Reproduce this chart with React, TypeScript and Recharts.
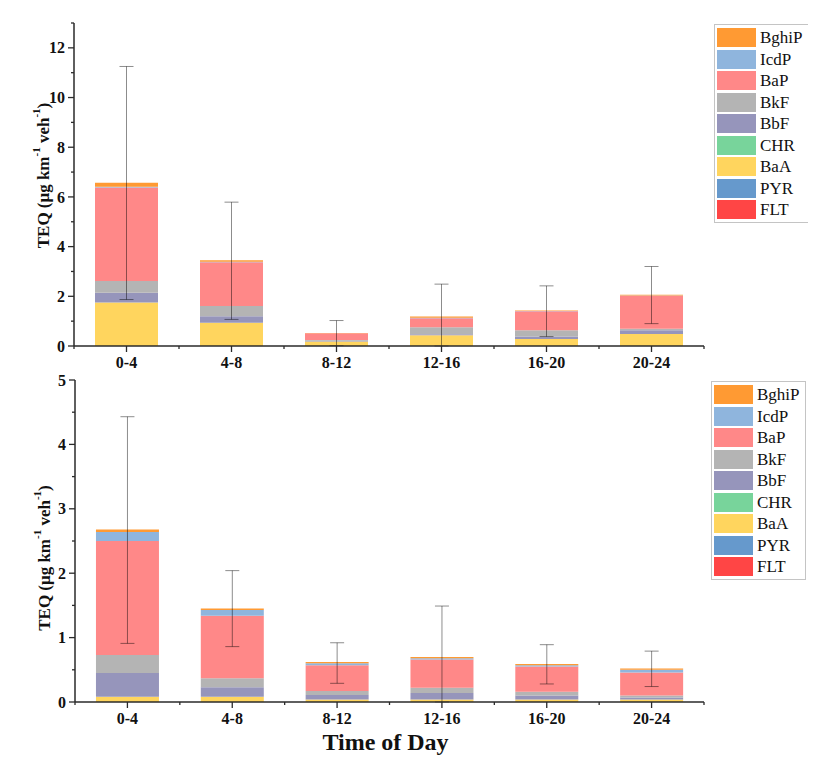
import React from 'react'
import { BarChart, Bar, XAxis, YAxis, ErrorBar, Label } from 'recharts'

const TIMES = ['0-4', '4-8', '8-12', '12-16', '16-20', '20-24']

// stack order, bottom -> top
const SPECIES = ['FLT', 'PYR', 'BaA', 'CHR', 'BbF', 'BkF', 'BaP', 'IcdP', 'BghiP']
const COLORS: Record<string, string> = {
  FLT: '#FF4545',
  PYR: '#6699CC',
  BaA: '#FFD55E',
  CHR: '#78D49B',
  BbF: '#9695BB',
  BkF: '#B4B4B4',
  BaP: '#FF8888',
  IcdP: '#8FB5DD',
  BghiP: '#FF9A33',
}

// panel (a)
const A_FLT = [0, 0, 0, 0, 0, 0]
const A_PYR = [0, 0, 0, 0, 0, 0]
const A_BaA = [1.75, 0.94, 0.18, 0.43, 0.28, 0.48]
const A_CHR = [0, 0, 0, 0, 0, 0]
const A_BbF = [0.39, 0.26, 0.03, 0.04, 0.1, 0.15]
const A_BkF = [0.48, 0.41, 0.03, 0.28, 0.25, 0.06]
const A_BaP = [3.76, 1.76, 0.27, 0.37, 0.77, 1.33]
const A_IcdP = [0.03, 0.02, 0.005, 0.02, 0.01, 0.01]
const A_BghiP = [0.16, 0.06, 0.01, 0.05, 0.02, 0.03]
const A_ERR_LO = [4.7, 2.38, 0.51, 1.19, 1.05, 1.16]
const A_ERR_HI = [4.68, 2.34, 0.5, 1.3, 0.99, 1.14]
const A_TICKS = [0, 1, 2, 3, 4, 5, 6, 7, 8, 9, 10, 11, 12, 13]

// panel (b)
const B_FLT = [0, 0, 0, 0, 0, 0]
const B_PYR = [0, 0, 0, 0, 0, 0]
const B_BaA = [0.08, 0.08, 0.04, 0.04, 0.04, 0.04]
const B_CHR = [0, 0, 0, 0, 0, 0]
const B_BbF = [0.37, 0.15, 0.07, 0.1, 0.06, 0.03]
const B_BkF = [0.28, 0.14, 0.06, 0.08, 0.06, 0.03]
const B_BaP = [1.77, 0.97, 0.4, 0.44, 0.39, 0.36]
const B_IcdP = [0.14, 0.09, 0.03, 0.02, 0.02, 0.04]
const B_BghiP = [0.04, 0.02, 0.02, 0.02, 0.02, 0.02]
const B_ERR_LO = [1.77, 0.59, 0.33, 0.7, 0.31, 0.28]
const B_ERR_HI = [1.75, 0.59, 0.3, 0.79, 0.3, 0.27]
const B_TICKS = [0, 0.5, 1, 1.5, 2, 2.5, 3, 3.5, 4, 4.5, 5]

const FONT = "'Liberation Serif', 'Times New Roman', serif"
const AXIS = '#2a2a2a'

const buildRows = (sets: Record<string, number[]>, lo: number[], hi: number[]) =>
  TIMES.map((time, i) => {
    const row: any = { time, err: [lo[i], hi[i]] }
    SPECIES.forEach(s => { row[s] = sets[s][i] })
    return row
  })

const dataA = buildRows(
  { FLT: A_FLT, PYR: A_PYR, BaA: A_BaA, CHR: A_CHR, BbF: A_BbF, BkF: A_BkF, BaP: A_BaP, IcdP: A_IcdP, BghiP: A_BghiP },
  A_ERR_LO, A_ERR_HI
)
const dataB = buildRows(
  { FLT: B_FLT, PYR: B_PYR, BaA: B_BaA, CHR: B_CHR, BbF: B_BbF, BkF: B_BkF, BaP: B_BaP, IcdP: B_IcdP, BghiP: B_BghiP },
  B_ERR_LO, B_ERR_HI
)

const YTick = ({ x, y, payload, isMajor }: any) => {
  const major = isMajor(payload.value)
  const len = major ? 6 : 3
  return (
    <g>
      <line x1={x - len} x2={x} y1={y} y2={y} stroke={AXIS} strokeWidth={1.3} />
      {major && (
        <text x={x - 9} y={y} dy="0.35em" textAnchor="end" fontSize={16} fontWeight="bold" fontFamily={FONT} fill="#111">
          {payload.value}
        </text>
      )}
    </g>
  )
}

const XTick = ({ x, y, payload, index }: any) => {
  const half = typeof payload.offset === 'number' && payload.offset > 0 ? payload.offset : 52.5
  return (
    <g>
      <line x1={x} x2={x} y1={y} y2={y + 6} stroke={AXIS} strokeWidth={1.3} />
      <line x1={x + half} x2={x + half} y1={y} y2={y + 3} stroke={AXIS} strokeWidth={1.3} />
      {index === 0 && <line x1={x - half} x2={x - half} y1={y} y2={y + 3} stroke={AXIS} strokeWidth={1.3} />}
      <text x={x} y={y + 22} textAnchor="middle" fontSize={16} fontWeight="bold" fontFamily={FONT} fill="#111">
        {payload.value}
      </text>
    </g>
  )
}

const YTitle = ({ viewBox, shift }: any) => {
  const cx = viewBox.x + viewBox.width - 31
  const cy = viewBox.y + viewBox.height / 2 + shift
  return (
    <text x={cx} y={cy} transform={`rotate(-90 ${cx} ${cy})`} textAnchor="middle" dominantBaseline="central"
      fontSize={17} fontWeight="bold" fontFamily={FONT} fill="#111">
      TEQ (μg km<tspan dy={-7} fontSize={11}>-1</tspan><tspan dy={7}> veh</tspan>
      <tspan dy={-7} fontSize={11}>-1</tspan><tspan dy={7}>)</tspan>
    </text>
  )
}

const PanelTag = ({ viewBox, text, down }: any) => (
  <text x={viewBox.x + viewBox.width - 10} y={viewBox.y + down} textAnchor="end"
    fontSize={28} fontWeight="bold" fontFamily={FONT} fill="#111">
    {text}
  </text>
)

const LegendBox = ({ left, top }: { left: number; top: number }) => (
  <div style={{ position: 'absolute', left, top, width: 91, border: '1px solid #c4c4c4', padding: '2px 0 1px 2px', background: '#fff' }}>
    {[...SPECIES].reverse().map(s => (
      <div key={s} style={{ display: 'flex', alignItems: 'center', height: 21.5 }}>
        <span style={{ width: 39, height: 19, background: COLORS[s], display: 'inline-block' }} />
        <span style={{ marginLeft: 4, fontSize: 17, fontFamily: FONT, color: '#111', lineHeight: '19px' }}>{s}</span>
      </div>
    ))}
  </div>
)

interface PanelProps {
  data: any[]
  max: number
  ticks: number[]
  isMajor: (v: number) => boolean
  tag: string
  tagDown: number
  titleShift: number
  yWidth: number
  height: number
  xHeight: number
  showXTitle?: boolean
}

const Panel = ({ data, max, ticks, isMajor, tag, tagDown, titleShift, yWidth, height, xHeight, showXTitle }: PanelProps) => (
  <BarChart width={710} height={height} data={data} barCategoryGap="20%"
    margin={{ top: 15, right: 14, left: 0, bottom: 0 }}>
    <XAxis dataKey="time" interval={0} tickSize={0} tickMargin={0} tickLine={false} height={xHeight}
      axisLine={{ stroke: AXIS, strokeWidth: 1.5 }} tick={(p: any) => <XTick {...p} />}>
      {showXTitle && (
        <Label content={(p: any) => (
          <text x={p.viewBox.x + p.viewBox.width / 2 - 4} y={p.viewBox.y + 48} textAnchor="middle"
            fontSize={24} fontWeight="bold" fontFamily={FONT} fill="#111">Time of Day</text>
        )} />
      )}
    </XAxis>
    <XAxis xAxisId="top" dataKey="time" orientation="top" height={0} tick={false} tickLine={false}
      axisLine={{ stroke: AXIS, strokeWidth: 1.3 }}>
      <Label content={(p: any) => <PanelTag viewBox={p.viewBox} text={tag} down={tagDown} />} />
    </XAxis>
    <YAxis type="number" domain={[0, max]} ticks={ticks} interval={0} allowDataOverflow width={yWidth}
      tickSize={0} tickMargin={0} tickLine={false} axisLine={{ stroke: AXIS, strokeWidth: 1.5 }}
      tick={(p: any) => <YTick {...p} isMajor={isMajor} />}>
      <Label content={(p: any) => <YTitle viewBox={p.viewBox} shift={titleShift} />} />
    </YAxis>
    <YAxis yAxisId="right" orientation="right" type="number" domain={[0, max]} width={0} tick={false}
      tickLine={false} axisLine={{ stroke: AXIS, strokeWidth: 1.3 }} />
    {SPECIES.map(s => (
      <Bar key={s} dataKey={s} stackId="teq" fill={COLORS[s]} isAnimationActive={false}>
        {s === 'BghiP' && (
          <ErrorBar dataKey="err" width={7} stroke="#000" strokeOpacity={0.45} strokeWidth={1}
            direction="y" isAnimationActive={false} />
        )}
      </Bar>
    ))}
  </BarChart>
)

export default function App() {
  return (
    <div style={{ position: 'relative', width: 800, height: 754, fontFamily: FONT, background: '#fff' }}>
      <div style={{ position: 'absolute', left: 0, top: 0 }}>
        <Panel data={dataA} max={13} ticks={A_TICKS} isMajor={v => v % 2 === 0} tag="(a)" tagDown={42}
          titleShift={-9} yWidth={66} height={378} xHeight={40} />
      </div>
      <div style={{ position: 'absolute', left: 0, top: 357 }}>
        <Panel data={dataB} max={5} ticks={B_TICKS} isMajor={v => Number.isInteger(v)} tag="(b)" tagDown={36}
          titleShift={17} yWidth={67} height={400} xHeight={63} showXTitle />
      </div>
      <LegendBox left={706} top={16} />
      <LegendBox left={703} top={373} />
    </div>
  )
}
